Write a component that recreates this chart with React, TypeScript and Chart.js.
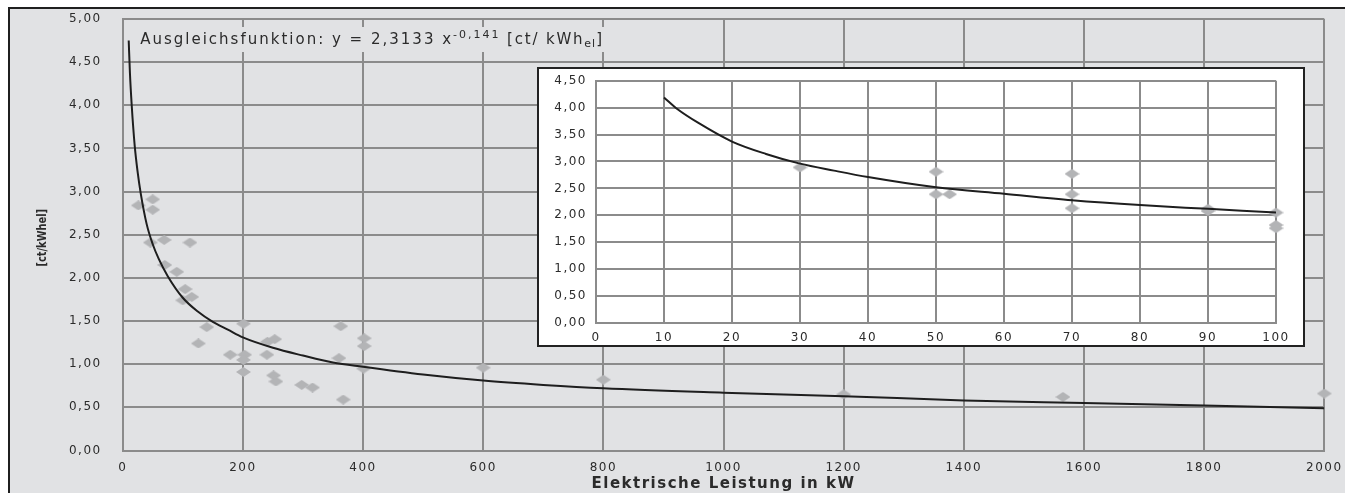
import React, { useEffect, useRef } from "react";
import { Chart, registerables } from "chart.js";

Chart.register(...registerables);

// ---------------- data ----------------
const scatterX = [26, 50, 50, 46, 69, 112, 70, 90, 104, 115, 100, 140, 126, 201, 179, 203, 201, 201, 240, 241, 253, 251, 255, 298, 316, 363, 360, 367, 402, 402, 401, 600, 800, 1200, 1565, 2000];
const scatterY = [2.84, 2.91, 2.79, 2.41, 2.44, 2.41, 2.15, 2.07, 1.87, 1.78, 1.74, 1.43, 1.24, 1.47, 1.11, 1.11, 1.05, 0.91, 1.11, 1.26, 1.29, 0.87, 0.8, 0.76, 0.73, 1.44, 1.07, 0.59, 1.3, 1.21, 0.95, 0.96, 0.82, 0.65, 0.62, 0.66];

const curveX = [10, 12, 15, 20, 25, 30, 40, 50, 60, 75, 100, 125, 150, 175, 200, 250, 300, 350, 400, 500, 600, 700, 800, 1000, 1200, 1400, 1600, 1800, 2000];
const curveY = [4.75, 4.38, 4.0, 3.53, 3.22, 2.98, 2.62, 2.39, 2.22, 2.02, 1.77, 1.61, 1.49, 1.4, 1.31, 1.19, 1.1, 1.02, 0.97, 0.88, 0.81, 0.76, 0.72, 0.67, 0.63, 0.58, 0.55, 0.52, 0.49];

const insetScatterX = [30, 50, 50, 52, 70, 70, 70, 90, 90, 100, 100, 100];
const insetScatterY = [2.89, 2.81, 2.39, 2.39, 2.77, 2.39, 2.13, 2.08, 2.12, 2.05, 1.82, 1.76];

const insetCurveX = [10, 12, 15, 20, 25, 30, 35, 40, 50, 60, 70, 80, 90, 100];
const insetCurveY = [4.19, 3.97, 3.72, 3.37, 3.14, 2.96, 2.83, 2.71, 2.52, 2.4, 2.28, 2.19, 2.12, 2.05];

const xTitle = "Elektrische Leistung in kW";
const yTitle = "[ct/kWhel]";
const fitText = "Ausgleichsfunktion: y = 2,3133 x";
const fitExp = "-0,141";
const fitUnit = " [ct/ kWh";
const fitSub = "el";
const fitEnd = "]";

// ---------------- styles ----------------
const BG = "#e1e2e4";
const GRID = "#8b8b8b";
const POINT = "#b3b4b6";
const LINE = "#1e1e1e";
const TEXT = "#2b2b2b";
const FONT = '"DejaVu Sans", sans-serif';
const COND = '"DejaVu Sans Condensed", "Liberation Sans Narrow", sans-serif';

const fmt = (v: any) => Number(v).toFixed(2).replace(".", ",");
const plain = (v: any) => String(v);

function makeDiamond(w: number, h: number, color: string) {
  const c = document.createElement("canvas");
  c.width = w;
  c.height = h;
  const g = c.getContext("2d")!;
  g.fillStyle = color;
  g.beginPath();
  g.moveTo(w / 2, 0);
  g.lineTo(w, h / 2);
  g.lineTo(w / 2, h);
  g.lineTo(0, h / 2);
  g.closePath();
  g.fill();
  return c;
}

const spacingPlugin = {
  id: "spacing",
  beforeLayout(chart: any) {
    chart.ctx.letterSpacing = "1.5px";
  },
  beforeDraw(chart: any) {
    chart.ctx.letterSpacing = "1.5px";
  },
};

const fitTitlePlugin = {
  id: "fitTitle",
  afterDatasetsDraw(chart: any) {
    const { ctx, chartArea } = chart;
    ctx.save();
    const big = `15px ${FONT}`;
    const small = `11px ${FONT}`;
    const parts = [
      { t: fitText, f: big, dy: 0, ls: "2px" },
      { t: fitExp, f: small, dy: -6, ls: "2px" },
      { t: fitUnit, f: big, dy: 0, ls: "1.8px" },
      { t: fitSub, f: small, dy: 3, ls: "1px" },
      { t: fitEnd, f: big, dy: 0, ls: "1px" },
    ];
    let total = 0;
    const widths = parts.map((p) => {
      ctx.font = p.f;
      ctx.letterSpacing = p.ls;
      const w = ctx.measureText(p.t).width;
      total += w;
      return w;
    });
    const x0 = chartArea.left + 17.5;
    const base = chartArea.top + 24.5;
    ctx.fillStyle = BG;
    ctx.fillRect(x0 - 6, chartArea.top + 8, total + 10, 25);
    ctx.fillStyle = TEXT;
    ctx.textBaseline = "alphabetic";
    ctx.textAlign = "left";
    let x = x0;
    parts.forEach((p, i) => {
      ctx.font = p.f;
      ctx.letterSpacing = p.ls;
      ctx.fillText(p.t, x, base + p.dy);
      x += widths[i];
    });
    ctx.restore();
  },
};

const yTitlePlugin = {
  id: "yTitle",
  afterDraw(chart: any) {
    const { ctx, chartArea } = chart;
    ctx.save();
    ctx.letterSpacing = "0px";
    ctx.font = `bold 13px ${COND}`;
    ctx.fillStyle = TEXT;
    ctx.textAlign = "center";
    ctx.textBaseline = "middle";
    ctx.translate(33, (chartArea.top + chartArea.bottom) / 2 + 3);
    ctx.rotate(-Math.PI / 2);
    ctx.scale(0.84, 1);
    ctx.fillText(yTitle, 0, 0);
    ctx.restore();
  },
};

const resetPad = (s: any) => {
  s.paddingTop = 0;
  s.paddingBottom = 0;
  s.paddingLeft = 0;
  s.paddingRight = 0;
};

export default function App() {
  const mainRef = useRef<HTMLCanvasElement | null>(null);
  const insetRef = useRef<HTMLCanvasElement | null>(null);

  useEffect(() => {
    const diamond = makeDiamond(15, 10, POINT);
    const mainPts = scatterX.map((x, i) => ({ x, y: scatterY[i] }));
    const curvePts = curveX.map((x, i) => ({ x, y: curveY[i] }));
    const insetPts = insetScatterX.map((x, i) => ({ x, y: insetScatterY[i] }));
    const insetCurvePts = insetCurveX.map((x, i) => ({ x, y: insetCurveY[i] }));

    const tickFont = { family: FONT, size: 12 };
    const gridOpts = { color: GRID, lineWidth: 2, drawTicks: false };
    const borderOpts = { color: GRID, width: 2 };

    const main = new Chart(mainRef.current!, {
      type: "scatter",
      data: {
        datasets: [
          {
            data: curvePts,
            showLine: true,
            borderColor: LINE,
            borderWidth: 2,
            pointRadius: 0,
            cubicInterpolationMode: "monotone",
          } as any,
          {
            data: mainPts,
            pointStyle: diamond as any,
            pointRadius: 7,
            backgroundColor: POINT,
            borderWidth: 0,
            clip: false,
          } as any,
        ],
      },
      options: {
        animation: false,
        responsive: false,
        events: [],
        layout: { padding: { top: 10, right: 20.7, bottom: 0, left: 0 } },
        plugins: { legend: { display: false }, tooltip: { enabled: false } },
        scales: {
          x: {
            type: "linear",
            min: 0,
            max: 2000,
            ticks: { stepSize: 200, font: tickFont, color: TEXT, padding: 10, maxRotation: 0, callback: plain },
            grid: gridOpts,
            border: borderOpts,
            title: {
              display: true,
              text: xTitle,
              color: TEXT,
              font: { family: FONT, size: 15, weight: "bold" },
              padding: { top: 0, bottom: 0 },
            },
            afterFit: (s: any) => {
              s.height = 42.5;
              resetPad(s);
            },
          },
          y: {
            min: 0,
            max: 5,
            ticks: { stepSize: 0.5, font: tickFont, color: TEXT, padding: 21, callback: fmt },
            grid: gridOpts,
            border: borderOpts,
            afterFit: (s: any) => {
              s.width = 112.7;
              resetPad(s);
            },
          },
        },
      },
      plugins: [spacingPlugin, fitTitlePlugin, yTitlePlugin],
    });

    const inset = new Chart(insetRef.current!, {
      type: "scatter",
      data: {
        datasets: [
          {
            data: insetCurvePts,
            showLine: true,
            borderColor: LINE,
            borderWidth: 2,
            pointRadius: 0,
            cubicInterpolationMode: "monotone",
          } as any,
          {
            data: insetPts,
            pointStyle: diamond as any,
            pointRadius: 7,
            backgroundColor: POINT,
            borderWidth: 0,
            clip: false,
          } as any,
        ],
      },
      options: {
        animation: false,
        responsive: false,
        events: [],
        layout: { padding: { top: 11.7, right: 27, bottom: 0, left: 0 } },
        plugins: { legend: { display: false }, tooltip: { enabled: false } },
        scales: {
          x: {
            type: "linear",
            min: 0,
            max: 100,
            ticks: { stepSize: 10, font: tickFont, color: TEXT, padding: 8, maxRotation: 0, callback: plain },
            grid: gridOpts,
            border: borderOpts,
            afterFit: (s: any) => {
              s.height = 22;
              resetPad(s);
            },
          },
          y: {
            min: 0,
            max: 4.5,
            ticks: { stepSize: 0.5, font: tickFont, color: TEXT, padding: 9, callback: fmt },
            grid: gridOpts,
            border: borderOpts,
            afterFit: (s: any) => {
              s.width = 57;
              resetPad(s);
            },
          },
        },
      },
      plugins: [spacingPlugin],
    });

    return () => {
      main.destroy();
      inset.destroy();
    };
  }, []);

  return (
    <div
      style={{
        position: "absolute",
        left: 8,
        top: 7,
        width: 1337,
        height: 486,
        boxSizing: "border-box",
        borderLeft: "2px solid #1f1f1f",
        borderTop: "2px solid #1f1f1f",
        background: BG,
        overflow: "hidden",
      }}
    >
      <canvas
        ref={mainRef}
        width={1335}
        height={484}
        style={{ position: "absolute", left: 0, top: 0, width: 1335, height: 484 }}
      />
      <div
        style={{
          position: "absolute",
          left: 527,
          top: 58,
          width: 768,
          height: 280,
          boxSizing: "border-box",
          border: "2px solid #222",
          background: "#ffffff",
        }}
      >
        <canvas ref={insetRef} width={764} height={276} style={{ display: "block", width: 764, height: 276 }} />
      </div>
    </div>
  );
}
